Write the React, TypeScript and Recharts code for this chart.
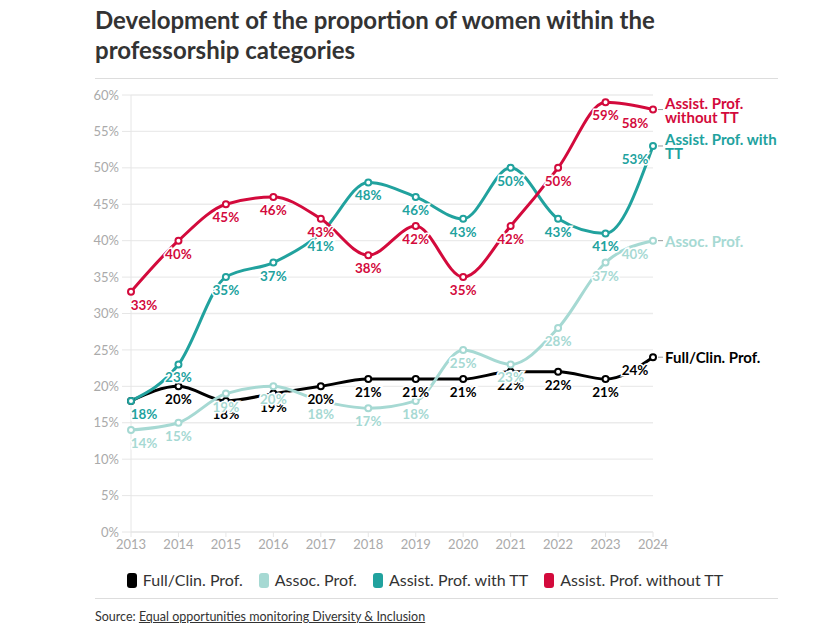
import { LineChart, Line, XAxis, YAxis, CartesianGrid, LabelList } from 'recharts';

const years = ['2013', '2014', '2015', '2016', '2017', '2018', '2019', '2020', '2021', '2022', '2023', '2024'];
const fullClin = [18, 20, 18, 19, 20, 21, 21, 21, 22, 22, 21, 24];
const assoc = [14, 15, 19, 20, 18, 17, 18, 25, 23, 28, 37, 40];
const assistTT = [18, 23, 35, 37, 41, 48, 46, 43, 50, 43, 41, 53];
const assistNoTT = [33, 40, 45, 46, 43, 38, 42, 35, 42, 50, 59, 58];
const yTicks = [0, 5, 10, 15, 20, 25, 30, 35, 40, 45, 50, 55, 60];

const series = [
  { key: 'fullClin', name: 'Full/Clin. Prof.', endLines: ['Full/Clin. Prof.'], color: '#000000', values: fullClin },
  { key: 'assoc', name: 'Assoc. Prof.', endLines: ['Assoc. Prof.'], color: '#a6d9d3', values: assoc },
  { key: 'assistTT', name: 'Assist. Prof. with TT', endLines: ['Assist. Prof. with', 'TT'], color: '#21a29e', values: assistTT },
  { key: 'assistNoTT', name: 'Assist. Prof. without TT', endLines: ['Assist. Prof.', 'without TT'], color: '#d30a3c', values: assistNoTT },
];

const data = years.map((year, i) => {
  const row: Record<string, string | number> = { year };
  series.forEach((s) => {
    row[s.key] = s.values[i];
  });
  return row;
});

const FONT = 'Lato, "Noto Sans", sans-serif';

function makeLabel(color: string, endLines: string[]) {
  return (props: any) => {
    const { x, y, value, index } = props;
    const last = index === years.length - 1;
    const first = index === 0;
    const dx = first ? 13 : last ? -18 : 0;
    return (
      <g>
        <text
          x={x + dx}
          y={y + 13}
          textAnchor="middle"
          dominantBaseline="central"
          fontSize={13.5}
          fontWeight={700}
          fill={color}
          stroke="#fff"
          strokeWidth={3}
          paintOrder="stroke"
          fontFamily={FONT}
        >
          {value}%
        </text>
        {last && (
          <g>
            <line x1={x + 5} x2={x + 10} y1={y} y2={y} stroke="#999" strokeWidth={1} />
            <text
              x={x + 12}
              y={y - (endLines.length - 1) * 7}
              fontSize={15}
              fontWeight={700}
              fill={color}
              fontFamily={FONT}
              dominantBaseline="central"
            >
              {endLines.map((l, k) => (
                <tspan key={k} x={x + 12} dy={k === 0 ? 0 : 14}>
                  {l}
                </tspan>
              ))}
            </text>
          </g>
        )}
      </g>
    );
  };
}

export default function App() {
  return (
    <div style={{ position: 'relative', width: 840, height: 630, fontFamily: FONT, background: '#fff' }}>
      <style>{'body{margin:0}'}</style>
      <div
        style={{
          position: 'absolute',
          left: 95,
          top: 5,
          width: 620,
          fontSize: 24,
          fontWeight: 700,
          lineHeight: '30px',
          color: '#333',
        }}
      >
        Development of the proportion of women within the professorship categories
      </div>
      <div style={{ position: 'absolute', left: 95, top: 78, width: 683, borderTop: '1px solid #ddd' }} />

      <div style={{ position: 'absolute', left: 0, top: 0 }}>
        <LineChart width={840} height={570} data={data} margin={{ top: 95, right: 187, left: 91, bottom: 8 }}>
          <CartesianGrid vertical={false} stroke="#ebebeb" strokeWidth={1.3} />
          <XAxis
            dataKey="year"
            height={30}
            axisLine={{ stroke: '#e6e6e6' }}
            tickLine={{ stroke: '#e6e6e6' }}
            tickSize={5}
            tickMargin={3}
            tick={{ fill: '#aaa', fontSize: 13, fontFamily: FONT }}
            interval={0}
          />
          <YAxis
            width={40}
            domain={[0, 60]}
            ticks={yTicks}
            tickFormatter={(v) => `${v}%`}
            axisLine={{ stroke: '#e6e6e6' }}
            tickLine={{ stroke: '#e6e6e6' }}
            tickSize={9}
            tickMargin={3}
            tick={{ fill: '#aaa', fontSize: 13, fontFamily: FONT }}
            interval={0}
          />
          {series.map((s) => (
            <Line
              key={s.key}
              type="monotone"
              dataKey={s.key}
              name={s.name}
              stroke={s.color}
              strokeWidth={3}
              dot={{ r: 3, strokeWidth: 2, fill: '#fff', stroke: s.color }}
              activeDot={false}
              isAnimationActive={false}
            >
              <LabelList dataKey={s.key} content={makeLabel(s.color, s.endLines)} />
            </Line>
          ))}
        </LineChart>
      </div>

      <div
        style={{
          position: 'absolute',
          top: 570,
          left: 0,
          width: 850,
          display: 'flex',
          justifyContent: 'center',
          gap: 16,
          fontSize: 16,
          color: '#333',
          lineHeight: '20px',
        }}
      >
        {series.map((s) => (
          <div key={s.key} style={{ display: 'flex', alignItems: 'center' }}>
            <span
              style={{
                display: 'inline-block',
                width: 10,
                height: 15,
                borderRadius: 3,
                background: s.color,
                marginRight: 6,
              }}
            />
            {s.name}
          </div>
        ))}
      </div>
      <div style={{ position: 'absolute', left: 95, top: 598, width: 683, borderTop: '1px solid #ddd' }} />
      <div style={{ position: 'absolute', left: 95, top: 609, fontSize: 12.5, color: '#333' }}>
        Source: <span style={{ textDecoration: 'underline' }}>Equal opportunities monitoring Diversity &amp; Inclusion</span>
      </div>
    </div>
  );
}
